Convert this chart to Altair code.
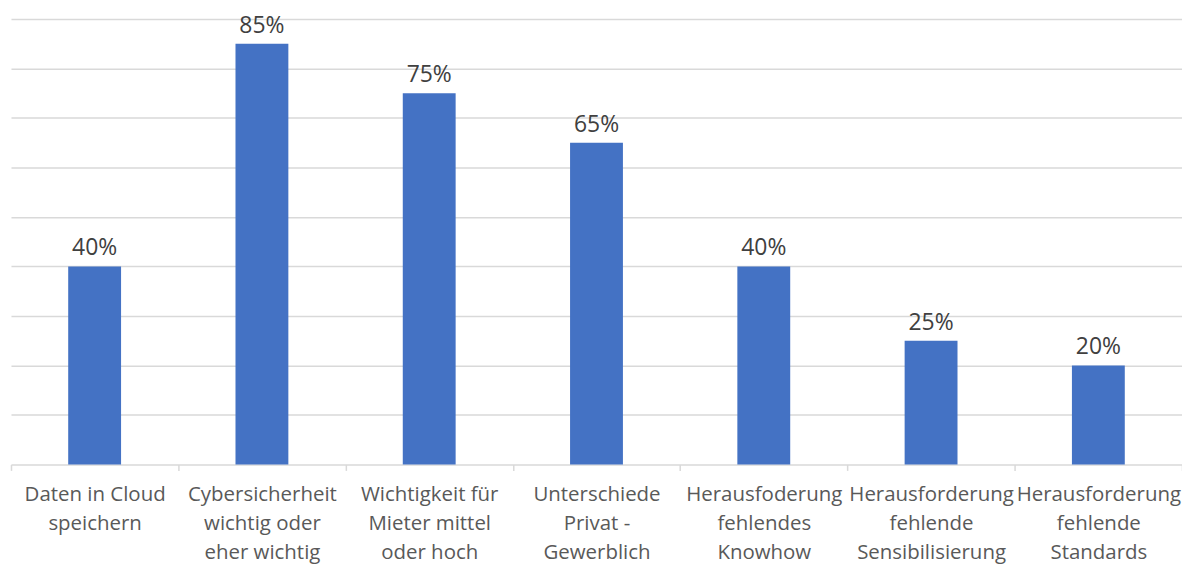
import altair as alt
import pandas as pd

categories = [
    "Daten in Cloud|speichern",
    "Cybersicherheit|wichtig oder|eher wichtig",
    "Wichtigkeit für|Mieter mittel|oder hoch",
    "Unterschiede|Privat -|Gewerblich",
    "Herausfoderung|fehlendes|Knowhow",
    "Herausforderung|fehlende|Sensibilisierung",
    "Herausforderung|fehlende|Standards",
]
values = [0.40, 0.85, 0.75, 0.65, 0.40, 0.25, 0.20]
value_labels = ["40%", "85%", "75%", "65%", "40%", "25%", "20%"]

df = pd.DataFrame({"cat": categories, "val": values, "lbl": value_labels})

FONT = "Open Sans"

x = alt.X(
    "cat:N",
    sort=categories,
    title=None,
    scale=alt.Scale(paddingInner=0, paddingOuter=0),
    axis=alt.Axis(
        labelExpr="split(datum.label, '|')",
        labelAngle=0,
        labelFont=FONT,
        labelFontSize=20.5,
        labelColor="#595959",
        labelLineHeight=29,
        labelPadding=14,
        labelLimit=400,
        domainColor="#d9d9d9",
        domainWidth=1.5,
        tickColor="#d9d9d9",
        tickWidth=1.5,
        tickSize=6,
        tickBand="extent",
        grid=False,
    ),
)
y = alt.Y(
    "val:Q",
    title=None,
    scale=alt.Scale(domain=[0, 0.9], nice=False),
    axis=alt.Axis(
        values=[0.1, 0.2, 0.3, 0.4, 0.5, 0.6, 0.7, 0.8, 0.9],
        labels=False,
        ticks=False,
        domain=False,
        gridColor="#d9d9d9",
        gridWidth=1.5,
    ),
)

base = alt.Chart(df)
bars = base.mark_bar(color="#4472C4", width=alt.RelativeBandSize(0.316)).encode(x=x, y=y)
text = base.mark_text(
    font=FONT, fontSize=23, color="#404040", baseline="alphabetic", dy=-11
).encode(x=x, y=y, text="lbl:N")

chart = (
    alt.layer(bars, text)
    .properties(
        width=1175,
        height=447,
        background="white",
        autosize=alt.AutoSizeParams(type="none"),
        padding={"left": 3, "top": 10, "right": 0, "bottom": 110},
    )
    .configure_view(stroke=None, strokeWidth=0)
)

chart.save("out.html", embed_options={"renderer": "svg", "actions": False})
